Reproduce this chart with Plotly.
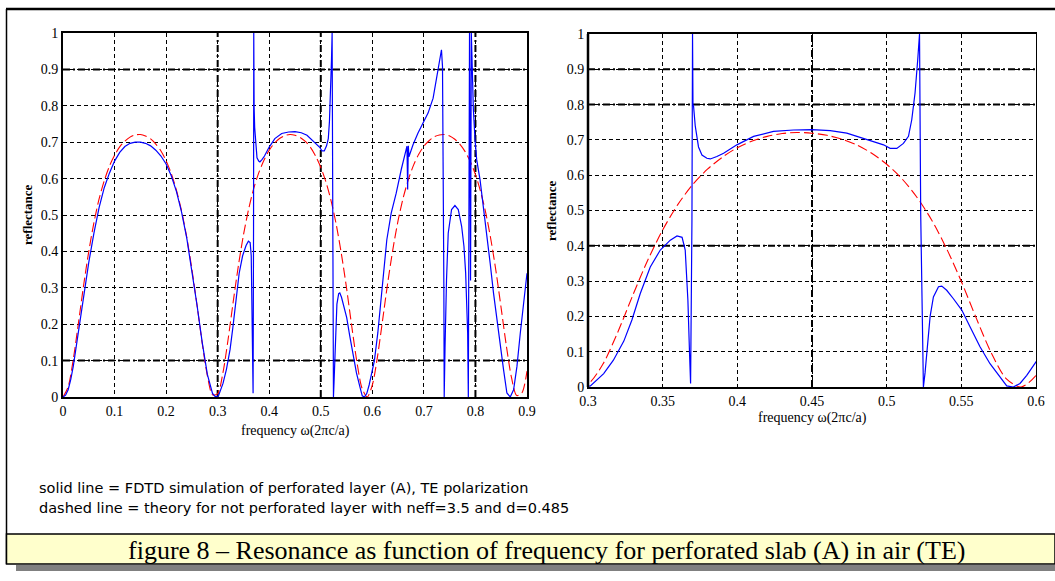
import plotly.graph_objects as go

# ---------------- data ----------------
RED_FREQ = [0.00, 0.01, 0.02, 0.03, 0.04, 0.05, 0.06, 0.07, 0.08, 0.09,
            0.10, 0.11, 0.12, 0.13, 0.14, 0.15, 0.16, 0.17, 0.18, 0.19,
            0.20, 0.21, 0.22, 0.23, 0.24, 0.25, 0.26, 0.27, 0.28, 0.29,
            0.30, 0.31, 0.32, 0.33, 0.34, 0.35, 0.36, 0.37, 0.38, 0.39,
            0.40, 0.41, 0.42, 0.43, 0.44, 0.45, 0.46, 0.47, 0.48, 0.49,
            0.50, 0.51, 0.52, 0.53, 0.54, 0.55, 0.56, 0.57, 0.58, 0.59,
            0.60, 0.61, 0.62, 0.63, 0.64, 0.65, 0.66, 0.67, 0.68, 0.69,
            0.70, 0.71, 0.72, 0.73, 0.74, 0.75, 0.76, 0.77, 0.78, 0.79,
            0.80, 0.81, 0.82, 0.83, 0.84, 0.85, 0.86, 0.87, 0.88, 0.89, 0.90]
RED_REFL = [0.000, 0.028, 0.104, 0.204, 0.307, 0.400, 0.479, 0.544, 0.594, 0.634,
            0.664, 0.687, 0.703, 0.714, 0.720, 0.721, 0.717, 0.709, 0.695, 0.676,
            0.649, 0.614, 0.568, 0.511, 0.439, 0.351, 0.252, 0.148, 0.059, 0.006,
            0.009, 0.065, 0.156, 0.260, 0.359, 0.445, 0.516, 0.573, 0.617, 0.651,
            0.678, 0.697, 0.710, 0.718, 0.721, 0.719, 0.713, 0.702, 0.686, 0.662,
            0.631, 0.591, 0.539, 0.474, 0.393, 0.299, 0.195, 0.097, 0.024, 0.000,
            0.033, 0.111, 0.212, 0.315, 0.407, 0.485, 0.548, 0.598, 0.637, 0.667,
            0.689, 0.704, 0.715, 0.720, 0.721, 0.717, 0.708, 0.694, 0.674, 0.647,
            0.611, 0.564, 0.506, 0.432, 0.344, 0.243, 0.140, 0.053, 0.004, 0.011, 0.071]

BLUE_FREQ = [0.000, 0.005, 0.010, 0.015, 0.020, 0.030, 0.040, 0.050, 0.060, 0.070,
             0.080, 0.090, 0.100, 0.110, 0.120, 0.130, 0.140, 0.150, 0.160, 0.170,
             0.180, 0.190, 0.200, 0.210, 0.220, 0.230, 0.240, 0.250, 0.260, 0.270,
             0.280, 0.290, 0.296, 0.3016, 0.3105, 0.317, 0.324, 0.3294, 0.335, 0.3417,
             0.3484, 0.3551, 0.3596, 0.363, 0.3651, 0.3669, 0.368, 0.3687, 0.3696, 0.3700,
             0.3703, 0.3707, 0.3718, 0.374, 0.3763, 0.3796, 0.3819, 0.3863, 0.3908, 0.3997,
             0.4109, 0.4242, 0.4376, 0.450, 0.4622, 0.4733, 0.4845, 0.4979, 0.5023, 0.5068,
             0.5112, 0.5146, 0.5168, 0.519, 0.5208, 0.522, 0.5228, 0.5246, 0.5257, 0.5269,
             0.5291, 0.5313, 0.5347, 0.5369, 0.5402, 0.5447, 0.5503, 0.5559, 0.5625, 0.5692,
             0.5759, 0.5804, 0.5848, 0.5893, 0.5938, 0.600, 0.604, 0.6106, 0.619, 0.6281,
             0.6366, 0.6463, 0.6561, 0.6646, 0.6672, 0.6685, 0.6698, 0.671, 0.6789, 0.6886,
             0.6984, 0.7081, 0.7179, 0.7244, 0.7309, 0.7341, 0.7361, 0.7374, 0.7387, 0.7394,
             0.7400, 0.741, 0.7439, 0.7472, 0.7537, 0.7602, 0.7667, 0.7732, 0.7777, 0.781,
             0.7849, 0.7862, 0.7885, 0.7905, 0.7920, 0.796, 0.7992, 0.8024, 0.8089, 0.8154,
             0.822, 0.8285, 0.835, 0.8415, 0.848, 0.8545, 0.861, 0.8675, 0.874, 0.8805,
             0.887, 0.8935, 0.900]
BLUE_REFL = [0.000, 0.005, 0.020, 0.048, 0.085, 0.180, 0.280, 0.370, 0.450, 0.520,
             0.575, 0.615, 0.648, 0.672, 0.688, 0.697, 0.700, 0.700, 0.697, 0.690,
             0.678, 0.662, 0.640, 0.608, 0.565, 0.508, 0.437, 0.350, 0.252, 0.150,
             0.062, 0.010, 0.000, 0.003, 0.038, 0.076, 0.130, 0.190, 0.265, 0.340,
             0.388, 0.416, 0.428, 0.424, 0.388, 0.246, 0.095, 0.010, 0.470, 1.000,
             0.800, 0.795, 0.740, 0.680, 0.657, 0.648, 0.646, 0.653, 0.662, 0.686,
             0.710, 0.724, 0.728, 0.729, 0.726, 0.719, 0.705, 0.686, 0.676, 0.676,
             0.690, 0.710, 0.757, 0.833, 0.927, 1.000, 0.490, 0.000, 0.040, 0.100,
             0.200, 0.255, 0.284, 0.286, 0.274, 0.250, 0.218, 0.170, 0.114, 0.066,
             0.028, 0.003, 0.000, 0.010, 0.033, 0.071, 0.100, 0.176, 0.304, 0.432,
             0.505, 0.560, 0.625, 0.675, 0.689, 0.570, 0.690, 0.660, 0.693, 0.725,
             0.753, 0.780, 0.821, 0.872, 0.918, 0.954, 0.908, 0.689, 0.313, 0.000,
             0.130, 0.135, 0.322, 0.450, 0.515, 0.526, 0.515, 0.469, 0.414, 0.341,
             0.176, 0.000, 1.000, 0.320, 1.000, 0.790, 0.707, 0.652, 0.597, 0.524,
             0.450, 0.368, 0.286, 0.212, 0.139, 0.075, 0.011, 0.000, 0.020, 0.084,
             0.176, 0.267, 0.340]

LEFT_XTICKS = [0, 0.1, 0.2, 0.3, 0.4, 0.5, 0.6, 0.7, 0.8, 0.9]
LEFT_XTEXT = ["0", "0.1", "0.2", "0.3", "0.4", "0.5", "0.6", "0.7", "0.8", "0.9"]
RIGHT_XTICKS = [0.3, 0.35, 0.4, 0.45, 0.5, 0.55, 0.6]
RIGHT_XTEXT = ["0.3", "0.35", "0.4", "0.45", "0.5", "0.55", "0.6"]
Y_TICKS = [0, 0.1, 0.2, 0.3, 0.4, 0.5, 0.6, 0.7, 0.8, 0.9, 1]
Y_TEXT = ["0", "0.1", "0.2", "0.3", "0.4", "0.5", "0.6", "0.7", "0.8", "0.9", "1"]

LEFT_THICK_X = [0.3, 0.5, 0.8]
LEFT_THICK_Y = [0.1, 0.9]
RIGHT_THICK_X = [0.45]
RIGHT_THICK_Y = [0.4, 0.8, 0.9]

Y_TITLE = "reflectance"
X_TITLE = "frequency ω(2πc/a)"
NOTE1 = "solid line = FDTD simulation of perforated layer (A), TE polarization"
NOTE2 = "dashed line = theory for not perforated layer with neff=3.5 and d=0.485"
CAPTION = "figure 8 – Resonance as function of frequency for perforated slab (A) in air (TE)"

# ---------------- layout helpers ----------------
W, H = 1055, 581
def px(x):
    return x / W
def py(y):
    return 1 - y / H

RED = "#ff0000"
BLUE = "#0000ff"
SERIF = "Liberation Serif"
SANS = "DejaVu Sans"
GRID_DASH = "4px,3px"
THICK_DASH = "7px,3px,2px,3px"

fig = go.Figure()
for xa, ya in (("x", "y"), ("x2", "y2")):
    fig.add_trace(go.Scatter(x=RED_FREQ, y=RED_REFL, mode="lines", xaxis=xa, yaxis=ya,
                             line=dict(color=RED, width=1.1, dash="10px,4px", shape="spline",
                                       smoothing=0.8),
                             hoverinfo="skip", showlegend=False))
    fig.add_trace(go.Scatter(x=BLUE_FREQ, y=BLUE_REFL, mode="lines", xaxis=xa, yaxis=ya,
                             line=dict(color=BLUE, width=1.2),
                             hoverinfo="skip", showlegend=False))

axis_common = dict(showgrid=True, gridcolor="black", gridwidth=1, griddash=GRID_DASH,
                   zeroline=False, showline=True, linecolor="black", mirror=True,
                   ticks="", tickfont=dict(family=SERIF, size=14, color="black"),
                   fixedrange=True, automargin=False)

fig.update_layout(
    width=W, height=H, autosize=False,
    margin=dict(l=0, r=0, t=0, b=0, pad=0, autoexpand=False),
    showlegend=False,
    paper_bgcolor="white", plot_bgcolor="white",
    xaxis=dict(axis_common, domain=[px(63), px(527)], range=[0, 0.9], anchor="y",
               tickvals=LEFT_XTICKS, ticktext=LEFT_XTEXT, linewidth=2),
    yaxis=dict(axis_common, domain=[py(397), py(33)], range=[0, 1], anchor="x",
               tickvals=Y_TICKS, ticktext=Y_TEXT, linewidth=2),
    xaxis2=dict(axis_common, domain=[px(588), px(1036)], range=[0.3, 0.6], anchor="y2",
                tickvals=RIGHT_XTICKS, ticktext=RIGHT_XTEXT, linewidth=1.5),
    yaxis2=dict(axis_common, domain=[py(387), py(34)], range=[0, 1], anchor="x2",
                tickvals=Y_TICKS, ticktext=Y_TEXT, linewidth=1),
)

shapes = []
thick = dict(color="black", width=2, dash=THICK_DASH)
for v in LEFT_THICK_X:
    shapes.append(dict(type="line", xref="x", yref="y domain", x0=v, x1=v, y0=0, y1=1,
                       line=thick, layer="below"))
for v in LEFT_THICK_Y:
    shapes.append(dict(type="line", xref="x domain", yref="y", x0=0, x1=1, y0=v, y1=v,
                       line=thick, layer="below"))
for v in RIGHT_THICK_X:
    shapes.append(dict(type="line", xref="x2", yref="y2 domain", x0=v, x1=v, y0=0, y1=1,
                       line=thick, layer="below"))
for v in RIGHT_THICK_Y:
    shapes.append(dict(type="line", xref="x2 domain", yref="y2", x0=0, x1=1, y0=v, y1=v,
                       line=thick, layer="below"))
# thick left edge of right panel
shapes.append(dict(type="line", xref="x2 domain", yref="y2 domain", x0=0, x1=0, y0=0, y1=1,
                   line=dict(color="black", width=2.5), layer="above"))
# outer frame
shapes.append(dict(type="line", xref="paper", yref="paper", x0=px(6), x1=1, y0=py(9), y1=py(9),
                   line=dict(color="black", width=2.5)))
shapes.append(dict(type="line", xref="paper", yref="paper", x0=px(6.5), x1=px(6.5),
                   y0=py(9), y1=py(564), line=dict(color="black", width=1.5)))
# caption box with shadow
shapes.append(dict(type="rect", xref="paper", yref="paper", x0=px(16), x1=1, y0=py(571), y1=py(565),
                   fillcolor="#808080", line=dict(width=0)))
shapes.append(dict(type="rect", xref="paper", yref="paper", x0=px(6.5), x1=1, y0=py(564),
                   y1=py(534), fillcolor="#ffffcc", line=dict(color="black", width=1.5)))
fig.update_layout(shapes=shapes)

ann = []
for xc, yc in ((27, 215), (551, 211)):
    ann.append(dict(text=f"<b>{Y_TITLE}</b>", x=px(xc), y=py(yc), xref="paper", yref="paper",
                    textangle=-90, showarrow=False, xanchor="center", yanchor="middle",
                    font=dict(family=SERIF, size=13, color="black")))
for xc, yc in ((295, 431), (812, 418)):
    ann.append(dict(text=X_TITLE, x=px(xc), y=py(yc), xref="paper", yref="paper",
                    showarrow=False, xanchor="center", yanchor="middle",
                    font=dict(family=SERIF, size=14, color="black")))
for yc, t in ((488, NOTE1), (508, NOTE2)):
    ann.append(dict(text=t, x=px(37), y=py(yc), xref="paper", yref="paper",
                    showarrow=False, xanchor="left", yanchor="middle",
                    font=dict(family=SANS, size=14.5, color="black")))
ann.append(dict(text=CAPTION, x=px(546), y=py(550), xref="paper", yref="paper",
                showarrow=False, xanchor="center", yanchor="middle",
                font=dict(family=SERIF, size=26, color="black")))
fig.update_layout(annotations=ann)

fig.write_html("out.html")
